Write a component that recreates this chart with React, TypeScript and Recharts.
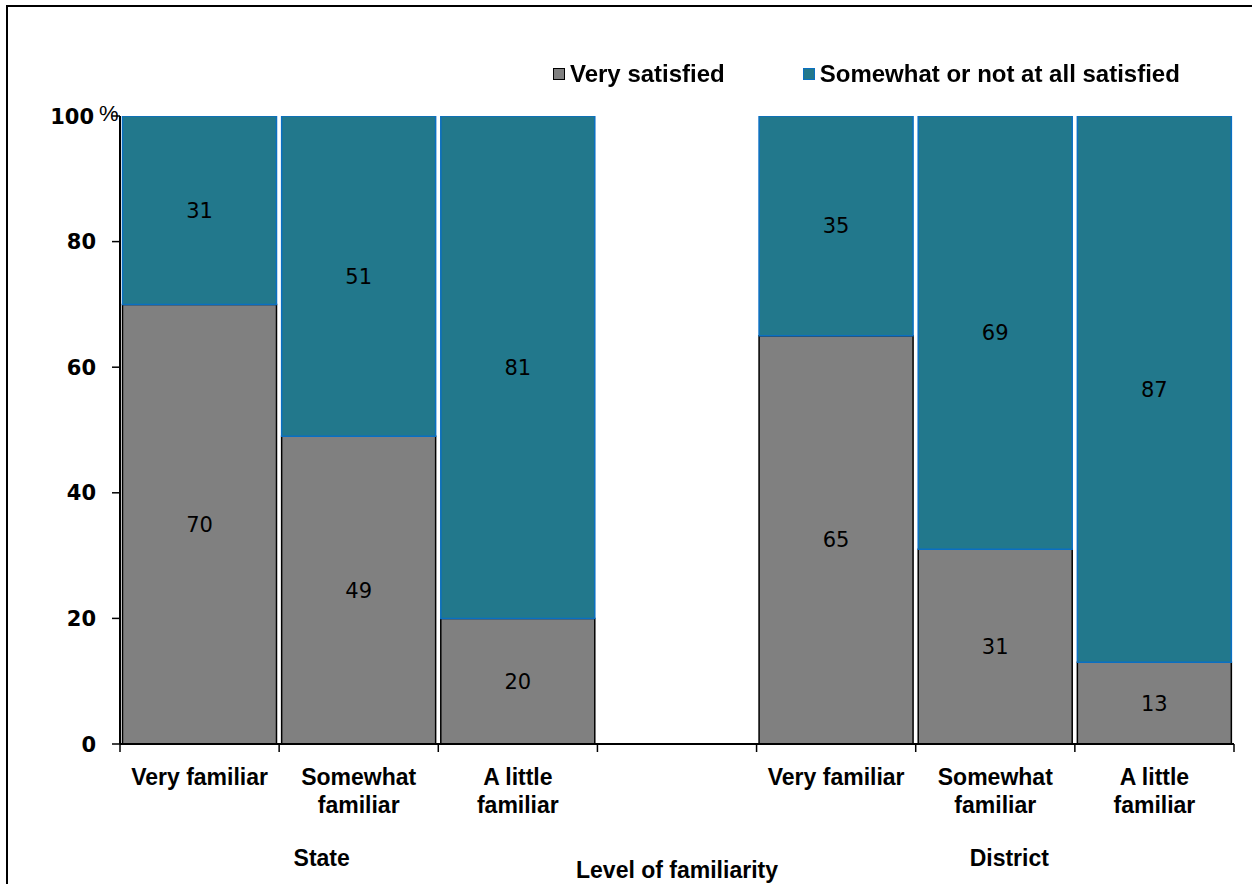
import { BarChart, Bar, XAxis, YAxis, Legend, LabelList } from 'recharts'

const W = 1252
const H = 884
const MARGIN = { top: 116, right: 18, left: 0, bottom: 0 }
const Y_AXIS_W = 120
const FONT = "'Liberation Sans', Arial, sans-serif"
const NUM_FONT = "'DejaVu Sans', Verdana, sans-serif"

const GRAY = '#808080'
const TEAL = '#22788c'
const TEAL_EDGE = '#0a6fc2'

// one slot per bar, slot 3 is the empty spacer between the two groups
const categories = [
  'Very familiar', 'Somewhat\nfamiliar', 'A little\nfamiliar', '',
  'Very familiar', 'Somewhat\nfamiliar', 'A little\nfamiliar',
]
const verySatisfied = [70, 49, 20, null, 65, 31, 13]
const notSatisfied = [31, 51, 81, null, 35, 69, 87]
const yTicks = [0, 20, 40, 60, 80, 100]
const groupLabels = [
  { name: 'State', slot: 1, dx: -37 },
  { name: 'District', slot: 5, dx: 14 },
]

const data = categories.map((c, i) => ({
  slot: i,
  label: c,
  very: verySatisfied[i],
  notVery: notSatisfied[i],
}))

const step = (W - Y_AXIS_W - MARGIN.right) / categories.length

function XTick(props: any) {
  const { x, y, payload } = props
  const i = payload.value as number
  const lines = categories[i] ? categories[i].split('\n') : []
  const group = groupLabels.find((g) => g.slot === i)
  return (
    <g>
      <line x1={x - step / 2} x2={x - step / 2} y1={y} y2={y + 8} stroke="#000" strokeWidth={1.5} />
      {i === categories.length - 1 && (
        <line x1={x + step / 2} x2={x + step / 2} y1={y} y2={y + 8} stroke="#000" strokeWidth={1.5} />
      )}
      {lines.map((t, k) => (
        <text key={k} x={x} y={y + 41 + k * 28} textAnchor="middle"
          fontFamily={FONT} fontWeight="bold" fontSize={23} fill="#000">
          {t}
        </text>
      ))}
      {group && (
        <text x={x + group.dx} y={y + 122} textAnchor="middle"
          fontFamily={FONT} fontWeight="bold" fontSize={23} fill="#000">
          {group.name}
        </text>
      )}
    </g>
  )
}

function YTick(props: any) {
  const { y, payload } = props
  const v = payload.value
  return (
    <g>
      <line x1={Y_AXIS_W - 8} x2={Y_AXIS_W} y1={y} y2={y} stroke="#000" strokeWidth={1.5} />
      <text x={v === 100 ? 94 : 96} y={y} dy="0.36em" textAnchor="end"
        fontFamily={NUM_FONT} fontWeight="bold" fontSize={21} fill="#000">
        {v}
      </text>
      {v === 100 && (
        <text x={99} y={y - 3} dy="0.36em" fontFamily={FONT} fontSize={22} fill="#000">%</text>
      )}
    </g>
  )
}

function LegendBox() {
  const item = (color: string, edge: string, text: string, gapAfter: number) => (
    <div style={{ display: 'flex', alignItems: 'center', marginRight: gapAfter }}>
      <span style={{ width: 10, height: 10, background: color, border: `1.5px solid ${edge}`, marginRight: 5 }} />
      <span style={{ fontFamily: FONT, fontWeight: 'bold', fontSize: 24, color: '#000' }}>{text}</span>
    </div>
  )
  return (
    <div style={{ display: 'flex', alignItems: 'center', height: 28 }}>
      {item(GRAY, '#000', 'Very satisfied', 78)}
      {item(TEAL, TEAL_EDGE, 'Somewhat or not at all satisfied', 0)}
    </div>
  )
}

export default function App() {
  return (
    <div style={{ position: 'fixed', top: 0, left: 0, width: W, height: H, background: '#fff' }}>
      <div style={{
        position: 'absolute', left: 6, top: 5, right: 0, bottom: 0,
        borderTop: '2px solid #000', borderLeft: '2px solid #000',
      }} />
      <BarChart width={W} height={H} data={data} margin={MARGIN} barCategoryGap={2.5}>
        <XAxis dataKey="slot" type="category" height={H - 744} tickSize={0} tickMargin={0}
          tickLine={false} interval={0} tick={<XTick />}
          stroke="#000" strokeWidth={2}
          label={{ value: 'Level of familiarity', position: 'insideBottom', offset: 6,
            style: { fontFamily: FONT, fontWeight: 'bold', fontSize: 23, fill: '#000' } }} />
        <YAxis width={Y_AXIS_W} domain={[0, 100]} ticks={yTicks} allowDataOverflow
          tickLine={false} tickSize={0} tick={<YTick />}
          stroke="#000" strokeWidth={2} />
        <Legend verticalAlign="middle" align="center" layout="horizontal"
          wrapperStyle={{ top: 60, left: 553, width: 700 }} content={<LegendBox />} />
        <Bar dataKey="very" stackId="a" fill={GRAY} stroke="#000" strokeWidth={1.5} isAnimationActive={false}>
          <LabelList dataKey="very" position="center" fill="#000" fontSize={21} fontFamily={NUM_FONT} />
        </Bar>
        <Bar dataKey="notVery" stackId="a" fill={TEAL} stroke={TEAL_EDGE} strokeWidth={1.5} isAnimationActive={false}>
          <LabelList dataKey="notVery" position="center" fill="#000" fontSize={21} fontFamily={NUM_FONT} />
        </Bar>
      </BarChart>
    </div>
  )
}
